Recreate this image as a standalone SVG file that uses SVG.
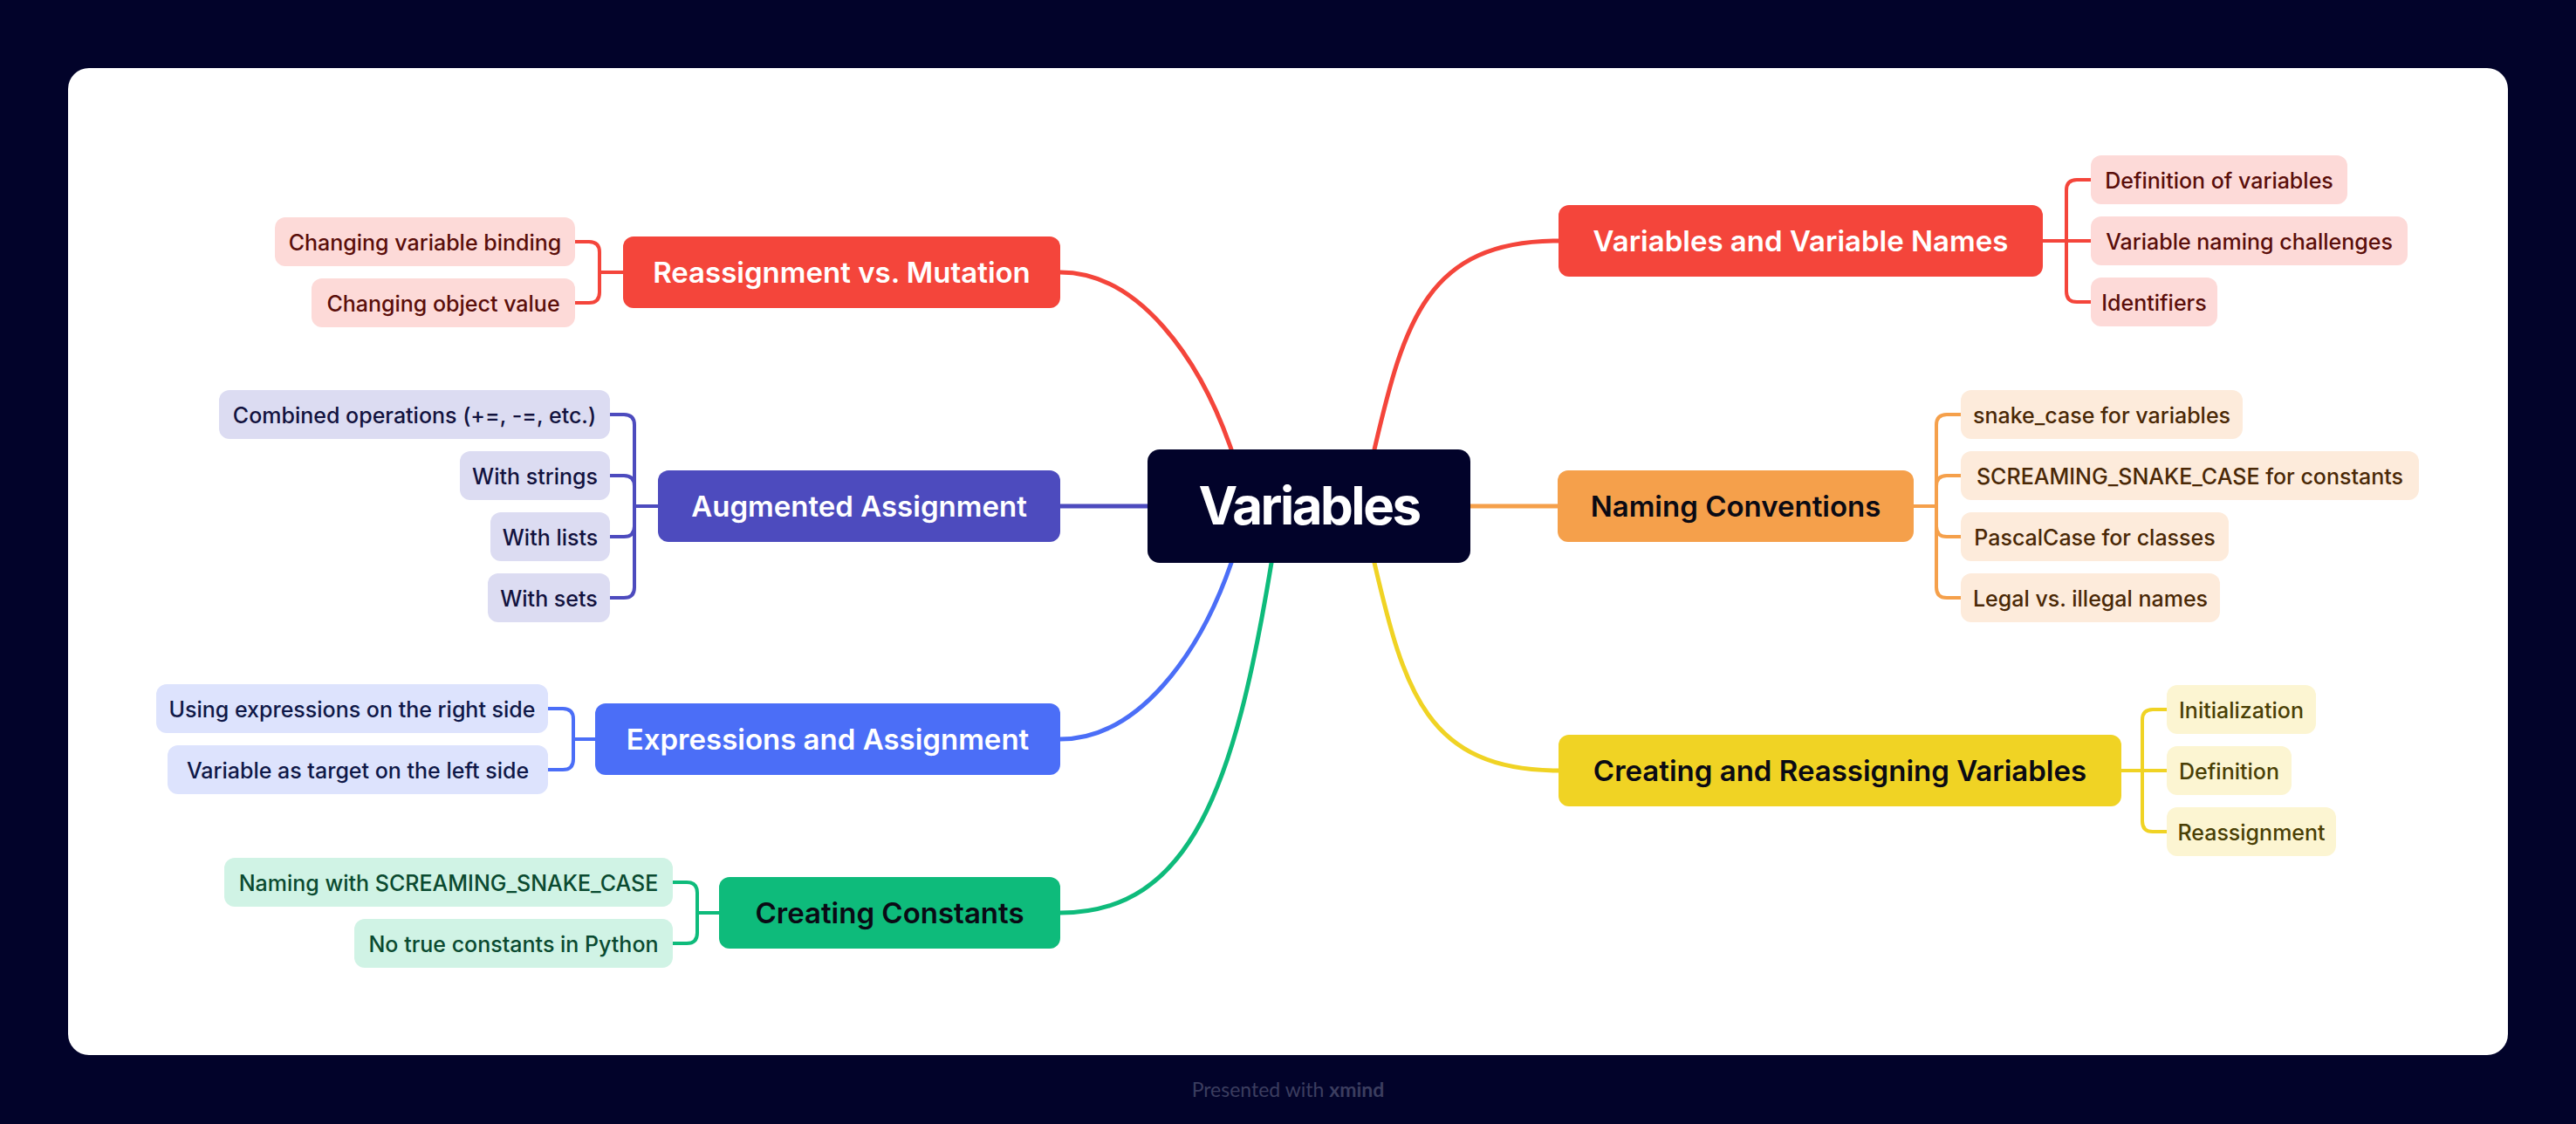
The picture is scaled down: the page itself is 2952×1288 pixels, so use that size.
<svg xmlns="http://www.w3.org/2000/svg" width="2952" height="1288" viewBox="0 0 2952 1288">
  <style>
    text { font-family: "Inter", "Liberation Sans", sans-serif; }
    .root-box { fill: #02032a; }
    .root-txt { fill: #ffffff; font-size: 60px; font-weight: 700; letter-spacing: -2.5px; text-anchor: middle; }
    .main-txt { font-size: 33px; font-weight: 600; text-anchor: middle; }
    .sub-txt { font-size: 25px; font-weight: 500; text-anchor: middle; }
    .branch { fill: none; stroke-width: 5; stroke-linecap: round; }
    .twig { fill: none; stroke-width: 4; stroke-linejoin: round; }
    .red .main { fill: #f4453b; } .red .sub { fill: #fddad8; } .red .sub-txt { fill: #5a0e0a; } .red .main-txt { fill: #ffffff; }
    .orange .main { fill: #f5a04b; } .orange .sub { fill: #fdebdb; } .orange .sub-txt { fill: #4a2806; } .orange .main-txt { fill: #0a0a14; }
    .yellow .main { fill: #f0d324; } .yellow .sub { fill: #fcf5d2; } .yellow .sub-txt { fill: #4a3f05; } .yellow .main-txt { fill: #0a0a14; }
    .purple .main { fill: #4d4bbe; } .purple .sub { fill: #dcdcf2; } .purple .sub-txt { fill: #12123e; } .purple .main-txt { fill: #ffffff; }
    .blue .main { fill: #4b6ef7; } .blue .sub { fill: #dde3fd; } .blue .sub-txt { fill: #0f1848; } .blue .main-txt { fill: #ffffff; }
    .green .main { fill: #0ebb7b; } .green .sub { fill: #d0f3e5; } .green .sub-txt { fill: #0a4a30; } .green .main-txt { fill: #0a0a14; }
    .c-red { stroke: #f4453b; } .c-orange { stroke: #f5a04b; } .c-yellow { stroke: #f0d324; }
    .c-purple { stroke: #4d4bbe; } .c-blue { stroke: #4b6ef7; } .c-green { stroke: #0ebb7b; }
  </style>

  <!-- page background and canvas card -->
  <rect x="0" y="0" width="2952" height="1288" fill="#02032a"/>
  <rect x="78" y="78" width="2796" height="1131" rx="24" fill="#ffffff"/>

  <!-- connectors -->
  <g id="connectors">
    <!-- root to main topics -->
    <path class="branch c-red" d="M1411,515 C1375,411 1305,312 1215,312"/>
    <path class="branch c-purple" d="M1315,580 H1215"/>
    <path class="branch c-blue" d="M1411,645 C1375,749 1305,847 1215,847"/>
    <path class="branch c-green" d="M1457,645 C1415,901 1365,1046 1215,1046"/>
    <path class="branch c-red" d="M1575,515 C1609,369 1635,276 1786,276"/>
    <path class="branch c-orange" d="M1685,580 H1785"/>
    <path class="branch c-yellow" d="M1575,645 C1609,791 1635,883 1786,883"/>

    <!-- Variables and Variable Names -> subtopics -->
    <path class="twig c-red" d="M2341,276 H2396 M2368,276 V218 Q2368,206 2380,206 H2396 M2368,276 V334 Q2368,346 2380,346 H2396"/>
    <!-- Naming Conventions -> subtopics -->
    <path class="twig c-orange" d="M2193,580 H2219 M2219,580 V487 Q2219,475 2231,475 H2247 M2219,580 V557 Q2219,545 2231,545 H2247 M2219,580 V603 Q2219,615 2231,615 H2247 M2219,580 V673 Q2219,685 2231,685 H2247"/>
    <!-- Creating and Reassigning Variables -> subtopics -->
    <path class="twig c-yellow" d="M2431,883 H2483 M2455,883 V825 Q2455,813 2467,813 H2483 M2455,883 V941 Q2455,953 2467,953 H2483"/>
    <!-- Reassignment vs. Mutation -> subtopics -->
    <path class="twig c-red" d="M714,312 H687 M687,312 V289 Q687,277 675,277 H659 M687,312 V335 Q687,347 675,347 H659"/>
    <!-- Augmented Assignment -> subtopics -->
    <path class="twig c-purple" d="M754,580 H727 M727,580 V487 Q727,475 715,475 H699 M727,580 V557 Q727,545 715,545 H699 M727,580 V603 Q727,615 715,615 H699 M727,580 V673 Q727,685 715,685 H699"/>
    <!-- Expressions and Assignment -> subtopics -->
    <path class="twig c-blue" d="M682,847 H657 M657,847 V824 Q657,812 645,812 H628 M657,847 V870 Q657,882 645,882 H628"/>
    <!-- Creating Constants -> subtopics -->
    <path class="twig c-green" d="M824,1046 H799 M799,1046 V1023 Q799,1011 787,1011 H771 M799,1046 V1069 Q799,1081 787,1081 H771"/>
  </g>

  <!-- central topic -->
  <g id="root">
    <rect class="root-box" x="1315" y="515" width="370" height="130" rx="14"/>
    <text class="root-txt" x="1500" y="601">Variables</text>
  </g>

  <g id="variables-and-names" class="red">
    <rect class="main" x="1786" y="235" width="555" height="82" rx="12"/>
    <text class="main-txt" x="2063.5" y="288">Variables and Variable Names</text>
    <g id="definition-of-variables"><rect class="sub" x="2396" y="178" width="294" height="56" rx="12"/><text class="sub-txt" x="2543" y="215.5">Definition of variables</text></g>
    <g id="naming-challenges"><rect class="sub" x="2396" y="248" width="363" height="56" rx="12"/><text class="sub-txt" x="2577.5" y="285.5">Variable naming challenges</text></g>
    <g id="identifiers"><rect class="sub" x="2396" y="318" width="145" height="56" rx="12"/><text class="sub-txt" x="2468.5" y="355.5">Identifiers</text></g>
  </g>

  <g id="naming-conventions" class="orange">
    <rect class="main" x="1785" y="539" width="408" height="82" rx="12"/>
    <text class="main-txt" x="1989" y="592">Naming Conventions</text>
    <g id="snake-case"><rect class="sub" x="2247" y="447" width="323" height="56" rx="12"/><text class="sub-txt" x="2408.5" y="484.5">snake_case for variables</text></g>
    <g id="screaming-snake-case"><rect class="sub" x="2247" y="517" width="525" height="56" rx="12"/><text class="sub-txt" x="2509.5" y="554.5">SCREAMING_SNAKE_CASE for constants</text></g>
    <g id="pascal-case"><rect class="sub" x="2247" y="587" width="307" height="56" rx="12"/><text class="sub-txt" x="2400.5" y="624.5">PascalCase for classes</text></g>
    <g id="legal-names"><rect class="sub" x="2247" y="657" width="297" height="56" rx="12"/><text class="sub-txt" x="2395.5" y="694.5">Legal vs. illegal names</text></g>
  </g>

  <g id="creating-reassigning" class="yellow">
    <rect class="main" x="1786" y="842" width="645" height="82" rx="12"/>
    <text class="main-txt" x="2108.5" y="895">Creating and Reassigning Variables</text>
    <g id="initialization"><rect class="sub" x="2483" y="785" width="171" height="56" rx="12"/><text class="sub-txt" x="2568.5" y="822.5">Initialization</text></g>
    <g id="definition"><rect class="sub" x="2483" y="855" width="143" height="56" rx="12"/><text class="sub-txt" x="2554.5" y="892.5">Definition</text></g>
    <g id="reassignment"><rect class="sub" x="2483" y="925" width="194" height="56" rx="12"/><text class="sub-txt" x="2580" y="962.5">Reassignment</text></g>
  </g>

  <g id="reassignment-vs-mutation" class="red">
    <rect class="main" x="714" y="271" width="501" height="82" rx="12"/>
    <text class="main-txt" x="964.5" y="324">Reassignment vs. Mutation</text>
    <g id="changing-binding"><rect class="sub" x="315" y="249" width="344" height="56" rx="12"/><text class="sub-txt" x="487" y="286.5">Changing variable binding</text></g>
    <g id="changing-value"><rect class="sub" x="357" y="319" width="302" height="56" rx="12"/><text class="sub-txt" x="508" y="356.5">Changing object value</text></g>
  </g>

  <g id="augmented-assignment" class="purple">
    <rect class="main" x="754" y="539" width="461" height="82" rx="12"/>
    <text class="main-txt" x="984.5" y="592">Augmented Assignment</text>
    <g id="combined-operations"><rect class="sub" x="251" y="447" width="448" height="56" rx="12"/><text class="sub-txt" x="475" y="484.5">Combined operations (+=, -=, etc.)</text></g>
    <g id="with-strings"><rect class="sub" x="527" y="517" width="172" height="56" rx="12"/><text class="sub-txt" x="613" y="554.5">With strings</text></g>
    <g id="with-lists"><rect class="sub" x="562" y="587" width="137" height="56" rx="12"/><text class="sub-txt" x="630.5" y="624.5">With lists</text></g>
    <g id="with-sets"><rect class="sub" x="559" y="657" width="140" height="56" rx="12"/><text class="sub-txt" x="629" y="694.5">With sets</text></g>
  </g>

  <g id="expressions-and-assignment" class="blue">
    <rect class="main" x="682" y="806" width="533" height="82" rx="12"/>
    <text class="main-txt" x="948.5" y="859">Expressions and Assignment</text>
    <g id="expressions-right"><rect class="sub" x="179" y="784" width="449" height="56" rx="12"/><text class="sub-txt" x="403.5" y="821.5">Using expressions on the right side</text></g>
    <g id="target-left"><rect class="sub" x="192" y="854" width="436" height="56" rx="12"/><text class="sub-txt" x="410" y="891.5">Variable as target on the left side</text></g>
  </g>

  <g id="creating-constants" class="green">
    <rect class="main" x="824" y="1005" width="391" height="82" rx="12"/>
    <text class="main-txt" x="1019.5" y="1058">Creating Constants</text>
    <g id="naming-screaming"><rect class="sub" x="257" y="983" width="514" height="56" rx="12"/><text class="sub-txt" x="514" y="1020.5">Naming with SCREAMING_SNAKE_CASE</text></g>
    <g id="no-true-constants"><rect class="sub" x="406" y="1053" width="365" height="56" rx="12"/><text class="sub-txt" x="588.5" y="1090.5">No true constants in Python</text></g>
  </g>

  <!-- footer credit -->
  <text x="1476" y="1257" font-size="23" fill="#3b3d5f" text-anchor="middle" style="font-family: Lato, 'Liberation Sans', sans-serif;">Presented with <tspan font-weight="700">xmind</tspan></text>
</svg>
